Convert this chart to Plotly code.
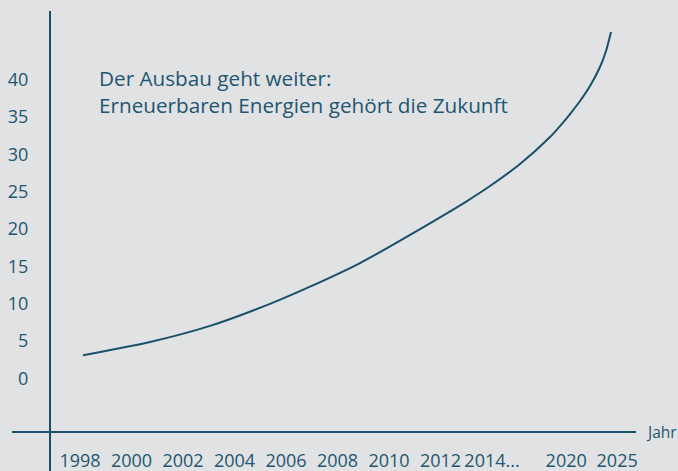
import plotly.graph_objects as go

# Tick labels (schematic, not linear in time)
x_labels = ["1998", "2000", "2002", "2004", "2006", "2008", "2010", "2012", "2014...", "2020", "2025"]
x_label_pos = [0, 1, 2, 3, 4, 5, 6, 7, 8, 9.44, 10.43]
y_ticks = [0, 5, 10, 15, 20, 25, 30, 35, 40]

# Curve (position on schematic axis, value)
curve_x = [0.058, 1.359, 2.524, 3.689, 4.466, 5.437, 6.602, 7.515, 7.961, 8.544,
           9.126, 9.320, 9.515, 9.709, 9.903, 10.097, 10.214, 10.311]
curve_y = [3.11, 4.89, 7.05, 10.0, 12.3, 15.46, 20.01, 23.76, 25.77, 28.71,
           32.33, 33.80, 35.41, 37.15, 39.16, 41.70, 43.84, 46.39]

BG = "#e1e2e4"
INK = "#1a5069"
TXT = "#1f5670"
FONT = "Open Sans"

fig = go.Figure()
fig.add_trace(go.Scatter(
    x=curve_x, y=curve_y, mode="lines",
    line=dict(color=INK, width=2, shape="spline", smoothing=0.7),
    hoverinfo="skip", showlegend=False,
))

fig.update_layout(
    width=678, height=471,
    margin=dict(l=50, r=42, t=11, b=39),
    paper_bgcolor=BG, plot_bgcolor=BG,
    font=dict(family=FONT, color=TXT, size=17),
    showlegend=False,
    xaxis=dict(
        range=[-0.583, 10.796], tickvals=x_label_pos, ticktext=x_labels,
        showgrid=False, zeroline=False, showline=False, automargin=False,
        ticks="outside", ticklen=12, tickcolor="rgba(0,0,0,0)",
        tickfont=dict(family=FONT, size=18, color=TXT), fixedrange=True,
    ),
    yaxis=dict(
        range=[-7.16, 49.2], tickvals=y_ticks,
        showgrid=False, zeroline=False, showline=False, automargin=False,
        ticks="outside", ticklen=17, tickcolor="rgba(0,0,0,0)",
        tickfont=dict(family=FONT, size=18, color=TXT), fixedrange=True,
    ),
    shapes=[
        dict(type="line", xref="paper", yref="paper", x0=0, x1=0, y0=-0.1, y1=1,
             line=dict(color=INK, width=2)),
        dict(type="line", xref="paper", yref="paper", x0=-0.065, x1=1, y0=0, y1=0,
             line=dict(color=INK, width=2)),
    ],
    annotations=[
        dict(text="Der Ausbau geht weiter:<br>Erneuerbaren Energien gehört die Zukunft",
             xref="paper", yref="paper", x=0.0802, y=0.8793, xanchor="left", yanchor="top",
             align="left", showarrow=False, font=dict(family=FONT, size=20.7, color=TXT)),
        dict(text="Jahr", xref="paper", yref="paper", x=1.0137, y=0, xanchor="left",
             yanchor="middle", showarrow=False, font=dict(family=FONT, size=15.5, color=TXT)),
    ],
)

fig.write_html("out.html", config={"displayModeBar": False},
               post_script="document.body.style.margin='0';document.body.style.background='" + BG + "';")
